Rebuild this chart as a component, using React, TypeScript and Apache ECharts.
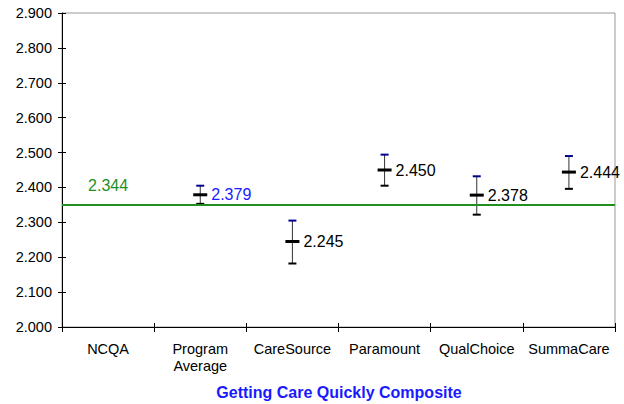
import React, { useEffect, useRef } from "react";
import * as echarts from "echarts";

const categories = ["NCQA", "Program\nAverage", "CareSource", "Paramount", "QualChoice", "SummaCare"];
const means = [2.344, 2.379, 2.245, 2.45, 2.378, 2.444];
const lows = [null, 2.353, 2.182, 2.405, 2.322, 2.396];
const highs = [null, 2.405, 2.305, 2.494, 2.432, 2.49];
const labelColors = ["#1f8f1f", "#1a1aff", "#000000", "#000000", "#000000", "#000000"];
const benchmarkLine = 2.348;
const yTicks = { min: 2.0, max: 2.9, interval: 0.1 };
const title = "Getting Care Quickly Composite";

const FONT = "Liberation Sans, Arial, sans-serif";

export default function App() {
  const ref = useRef<HTMLDivElement>(null);
  useEffect(() => {
    if (!ref.current) return;
    const chart = echarts.init(ref.current, null, { renderer: "svg" });
    const data = means.map((m, i) => [i, m, lows[i] ?? m, highs[i] ?? m, i]);
    chart.setOption({
      animation: false,
      textStyle: { fontFamily: FONT },
      title: {
        text: title,
        left: 339,
        textAlign: "center",
        top: 384,
        padding: 0,
        textStyle: { color: "#1a1aff", fontSize: 16, fontWeight: "bold", fontFamily: FONT },
      },
      grid: { left: 62, right: 9, top: 13, bottom: 77, show: true, borderColor: "#999", borderWidth: 1 },
      xAxis: [
        {
          type: "category",
          data: categories,
          boundaryGap: true,
          axisLine: { lineStyle: { color: "#000", width: 1 } },
          axisTick: { show: true, length: 5, inside: false, lineStyle: { color: "#000" } },
          axisLabel: { color: "#000", fontSize: 14.5, margin: 13, lineHeight: 17.5, interval: 0, fontFamily: FONT },
          splitLine: { show: false },
        },
        {
          type: "category",
          data: categories,
          position: "bottom",
          boundaryGap: true,
          axisLine: { show: false },
          axisTick: { show: true, length: 4, inside: true, lineStyle: { color: "#000" } },
          axisLabel: { show: false },
          splitLine: { show: false },
        },
      ],
      yAxis: [
        {
          type: "value",
          min: yTicks.min,
          max: yTicks.max,
          interval: yTicks.interval,
          axisLine: { show: true, lineStyle: { color: "#000", width: 1 } },
          axisTick: { show: true, length: 4, lineStyle: { color: "#000" } },
          axisLabel: { color: "#000", fontSize: 14.5, margin: 10, fontFamily: FONT, formatter: (v: number) => v.toFixed(3) },
          splitLine: { show: false },
        },
        {
          type: "value",
          position: "left",
          min: yTicks.min,
          max: yTicks.max,
          interval: yTicks.interval,
          axisLine: { show: false },
          axisTick: { show: true, length: 4, inside: true, lineStyle: { color: "#000" } },
          axisLabel: { show: false },
          splitLine: { show: false },
        },
      ],
      series: [
        {
          type: "line",
          data: [],
          markLine: {
            silent: true,
            symbol: ["none", "none"],
            label: { show: false },
            lineStyle: { color: "#1f8f1f", width: 2, type: "solid" },
            data: [{ yAxis: benchmarkLine }],
          },
        },
        {
          type: "custom",
          data,
          renderItem: (params: any, api: any) => {
            const i = api.value(0);
            const idx = api.value(4);
            const c = api.coord([i, api.value(1)]);
            const lo = api.coord([i, api.value(2)]);
            const hi = api.coord([i, api.value(3)]);
            const children: any[] = [];
            const text = means[idx].toFixed(3);
            if (lows[idx] == null) {
              children.push({
                type: "text",
                style: { text, x: c[0], y: c[1] - 21, fill: labelColors[idx], fontSize: 16, align: "center", verticalAlign: "middle", fontFamily: FONT },
              });
              return { type: "group", children };
            }
            children.push({ type: "line", shape: { x1: c[0], y1: hi[1], x2: c[0], y2: lo[1] }, style: { stroke: "#333", lineWidth: 1 } });
            children.push({ type: "line", shape: { x1: c[0] - 4, y1: hi[1], x2: c[0] + 4, y2: hi[1] }, style: { stroke: "#00008b", lineWidth: 2 } });
            children.push({ type: "line", shape: { x1: c[0] - 4, y1: lo[1], x2: c[0] + 4, y2: lo[1] }, style: { stroke: "#000", lineWidth: 2 } });
            children.push({ type: "line", shape: { x1: c[0] - 7, y1: c[1], x2: c[0] + 7, y2: c[1] }, style: { stroke: "#000", lineWidth: 3 } });
            children.push({
              type: "text",
              style: { text, x: c[0] + 11, y: c[1], fill: labelColors[idx], fontSize: 16, align: "left", verticalAlign: "middle", fontFamily: FONT },
            });
            return { type: "group", children };
          },
        },
      ],
    });
    return () => chart.dispose();
  }, []);
  return <div ref={ref} style={{ width: 624, height: 404, position: "absolute", left: 0, top: 0, background: "#fff" }} />;
}
